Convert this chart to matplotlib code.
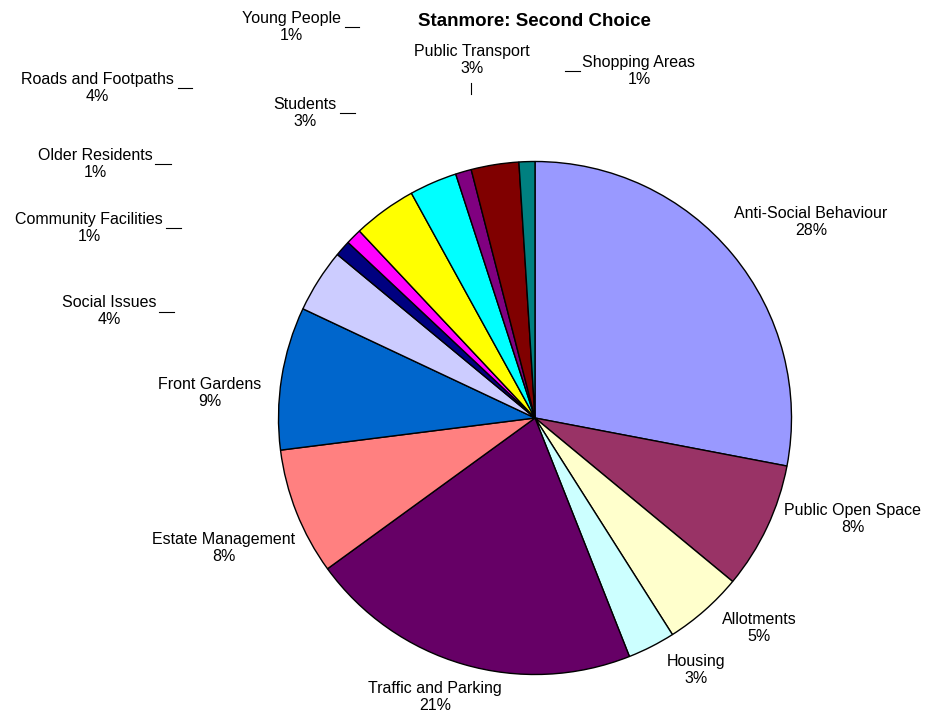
"""
Pie chart of second-choice priorities for Stanmore
"""

import matplotlib
matplotlib.use('Agg')  # Non-interactive backend
import matplotlib.pyplot as plt

plt.rcParams['font.family'] = ['Liberation Sans', 'DejaVu Sans']

W, H = 926, 717

categories = ['Anti-Social Behaviour', 'Public Open Space', 'Allotments', 'Housing',
              'Traffic and Parking', 'Estate Management', 'Front Gardens', 'Social Issues',
              'Community Facilities', 'Older Residents', 'Roads and Footpaths', 'Students',
              'Young People', 'Public Transport', 'Shopping Areas']
percentages = [28, 8, 5, 3, 21, 8, 9, 4, 1, 1, 4, 3, 1, 3, 1]
colours = ['#9999FF', '#993366', '#FFFFCC', '#CCFFFF', '#660066', '#FF8080', '#0066CC',
           '#CCCCFF', '#000080', '#FF00FF', '#FFFF00', '#00FFFF', '#800080', '#800000',
           '#008080']

# label centres in pixels, measured from the top-left corner
label_pos = [(811, 222), (853, 519), (759, 628), (696, 670), (435, 697), (224, 548),
             (210, 393), (109, 311), (89, 228), (95, 164), (97, 88), (305, 113),
             (291, 27), (472, 60), (639, 71)]

# short leader marks beside the outer labels: (x0, x1, y0, y1)
leaders = [(178, 192, 88, 88), (155, 171, 164, 164), (166, 181, 228, 228),
           (159, 174, 312, 312), (340, 355, 113, 113), (345, 359, 27, 27),
           (565, 580, 71, 71), (471, 471, 83, 94)]

fig = plt.figure(figsize=(W / 100, H / 100), dpi=100)
ax = fig.add_axes([0, 0, 1, 1])

ax.pie(percentages, colors=colours, startangle=90, counterclock=False,
       center=(535, H - 418), radius=256.5,
       wedgeprops=dict(edgecolor='black', linewidth=1.0))

ax.set_xlim(0, W)
ax.set_ylim(0, H)
ax.set_aspect('equal')
ax.axis('off')

ax.text(534, H - 21, 'Stanmore: Second Choice', ha='center', va='center',
        fontsize=13.5, fontweight='bold')

for name, pct, (x, y) in zip(categories, percentages, label_pos):
    ax.text(x, H - y, f'{name}\n{pct}%', ha='center', va='center',
            multialignment='center', fontsize=11.5, linespacing=1.2)

for x0, x1, y0, y1 in leaders:
    ax.plot([x0, x1], [H - y0, H - y1], color='black', linewidth=0.8)

fig.savefig('out.png', dpi=100)
plt.close(fig)
